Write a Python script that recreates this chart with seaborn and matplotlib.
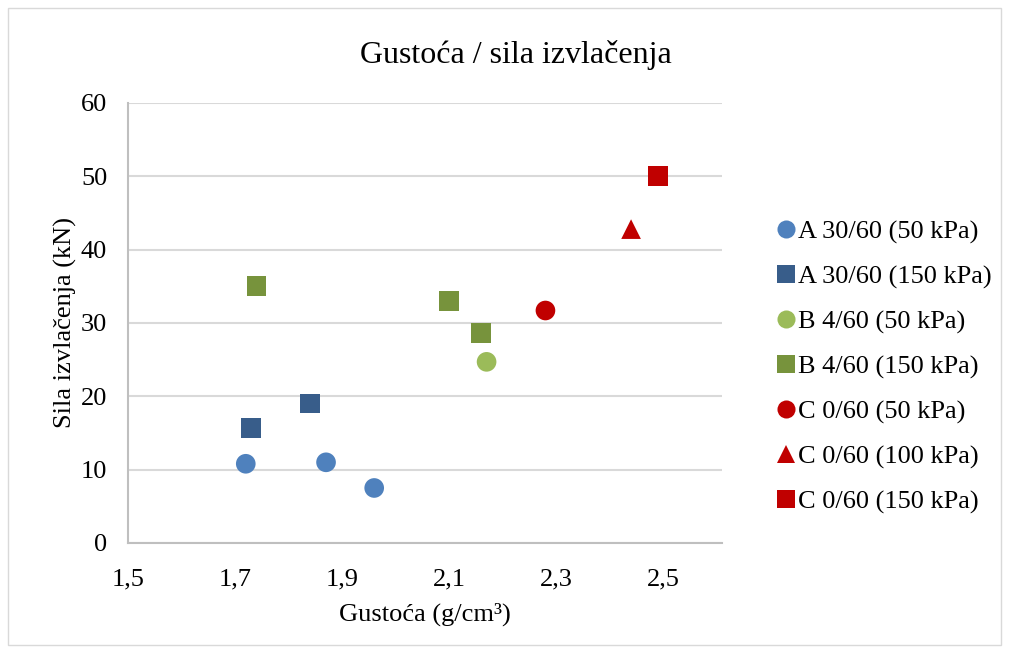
import pandas as pd
import seaborn as sns
import matplotlib.pyplot as plt
from matplotlib.lines import Line2D
from matplotlib.patches import Rectangle

# data
series = ["A 30/60 (50 kPa)", "A 30/60 (150 kPa)", "B 4/60 (50 kPa)", "B 4/60 (150 kPa)",
          "C 0/60 (50 kPa)", "C 0/60 (100 kPa)", "C 0/60 (150 kPa)"]
density = [[1.72, 1.87, 1.96], [1.73, 1.84], [2.17], [1.74, 2.10, 2.16], [2.28], [2.44], [2.49]]
force = [[10.8, 11.0, 7.5], [15.7, 19.0], [24.7], [35.0, 33.0, 28.6], [31.7], [42.8], [50.0]]
colors = ["#4F81BD", "#385D8A", "#9BBB59", "#77933C", "#C00000", "#C00000", "#C00000"]
markers = ["o", "s", "o", "s", "o", "^", "s"]

xticks = [1.5, 1.7, 1.9, 2.1, 2.3, 2.5]
xticklabels = ["1,5", "1,7", "1,9", "2,1", "2,3", "2,5"]
yticks = [0, 10, 20, 30, 40, 50, 60]

rows = []
for name, xs, ys in zip(series, density, force):
    for x, y in zip(xs, ys):
        rows.append({"Serija": name, "Gustoca": x, "Sila": y})
df = pd.DataFrame(rows)

sns.set_style("white")
plt.rcParams["font.family"] = ["Liberation Serif", "DejaVu Serif"]
plt.rcParams["text.color"] = "black"
plt.rcParams["axes.labelcolor"] = "black"

fig = plt.figure(figsize=(10.09, 6.53), dpi=100)
ax = fig.add_axes([0.1269, 0.1685, 0.5887, 0.6738])

sns.scatterplot(data=df, x="Gustoca", y="Sila", hue="Serija", style="Serija",
                palette=dict(zip(series, colors)), markers=dict(zip(series, markers)),
                s=200, linewidth=0, legend=False, ax=ax, zorder=3)

ax.set_xlim(1.5, 2.61)
ax.set_ylim(0, 60)
ax.set_xticks(xticks)
ax.set_xticklabels(xticklabels)
ax.set_yticks(yticks)
ax.tick_params(axis="both", length=0, labelsize=19, colors="black")
ax.tick_params(axis="x", pad=18)
ax.tick_params(axis="y", pad=15)
ax.grid(axis="y", color="#D9D9D9", linewidth=1.5)
ax.set_axisbelow(True)
for side in ["top", "right"]:
    ax.spines[side].set_visible(False)
for side in ["left", "bottom"]:
    ax.spines[side].set_color("#BFBFBF")
    ax.spines[side].set_linewidth(1.5)

fig.text(0.511, 0.916, "Gustoća / sila izvlačenja", fontsize=23, ha="center", va="center")
ax.set_xlabel("Gustoća (g/cm³)", fontsize=19, labelpad=9)
ax.set_ylabel("Sila izvlačenja (kN)", fontsize=19, labelpad=3)

handles = [Line2D([], [], linestyle="none", marker=m, color=c, markersize=13, markeredgewidth=0)
           for m, c in zip(markers, colors)]
fig.legend(handles, series, loc="center left", bbox_to_anchor=(0.744, 0.438), frameon=False,
           fontsize=19, handletextpad=0.0, handlelength=0.9, labelspacing=0.8)

fig.add_artist(Rectangle((0.008, 0.012), 0.984, 0.976, transform=fig.transFigure,
                         fill=False, edgecolor="#D9D9D9", linewidth=1))

plt.savefig("out.png", dpi=100)
